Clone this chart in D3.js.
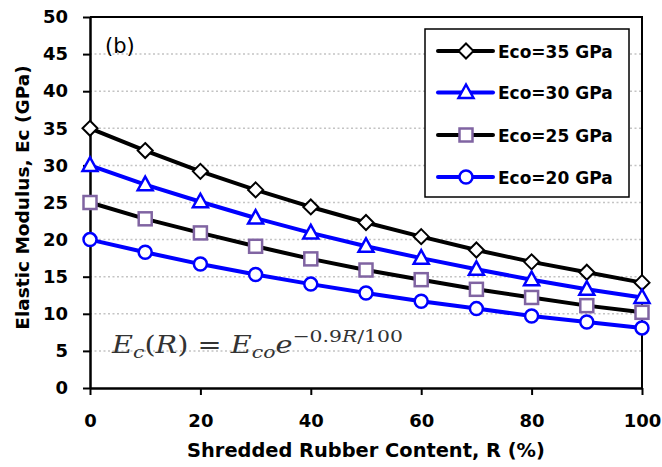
<!DOCTYPE html>
<html>
<head>
<meta charset="utf-8">
<script src="https://cdn.jsdelivr.net/npm/d3@7"></script>
<style>
  html, body { margin: 0; padding: 0; background: #fff; }
  svg { display: block; }
</style>
</head>
<body>
<svg id="chart" width="662" height="467"></svg>
<script>
// Rubber content R (%)
const rubber = [0, 10, 20, 30, 40, 50, 60, 70, 80, 90, 100];

// Elastic modulus Ec (GPa) for each reference modulus Eco
const eco35 = [35.0, 32.0, 29.2, 26.7, 24.4, 22.3, 20.4, 18.6, 17.0, 15.6, 14.2];
const eco30 = [30.0, 27.4, 25.1, 22.9, 20.9, 19.1, 17.5, 16.0, 14.6, 13.3, 12.2];
const eco25 = [25.0, 22.8, 20.9, 19.1, 17.4, 15.9, 14.6, 13.3, 12.2, 11.1, 10.2];
const eco20 = [20.0, 18.3, 16.7, 15.3, 14.0, 12.8, 11.7, 10.7, 9.7, 8.9, 8.1];

const seriesNames = ["Eco=35 GPa", "Eco=30 GPa", "Eco=25 GPa", "Eco=20 GPa"];
const xTicks = [0, 20, 40, 60, 80, 100];
const yTicks = [0, 5, 10, 15, 20, 25, 30, 35, 40, 45, 50];

const series = [
  { name: seriesNames[0], values: eco35, line: "#000000", marker: "diamond",  mStroke: "#000000" },
  { name: seriesNames[1], values: eco30, line: "#0000ff", marker: "triangle", mStroke: "#0000ff" },
  { name: seriesNames[2], values: eco25, line: "#000000", marker: "square",   mStroke: "#8064a2" },
  { name: seriesNames[3], values: eco20, line: "#0000ff", marker: "circle",   mStroke: "#0000ff" }
];

const svg = d3.select("#chart");
const plot = { left: 90, right: 642, top: 17, bottom: 388 };

const x = d3.scaleLinear().domain([0, 100]).range([plot.left, plot.right]);
const y = d3.scaleLinear().domain([0, 50]).range([plot.bottom, plot.top]);

const boldFont = "'DejaVu Sans', sans-serif";

// dotted horizontal gridlines
svg.append("g")
  .selectAll("line")
  .data(yTicks.filter(d => d > 0 && d < 50))
  .join("line")
  .attr("x1", plot.left).attr("x2", plot.right)
  .attr("y1", d => y(d)).attr("y2", d => y(d))
  .attr("stroke", "#c4c4c4")
  .attr("stroke-width", 1.5)
  .attr("stroke-dasharray", "2,2.5");

// frame: top and right edges
svg.append("path")
  .attr("d", `M${plot.left},${plot.top}H${plot.right}V${plot.bottom}`)
  .attr("fill", "none")
  .attr("stroke", "#000")
  .attr("stroke-width", 2);

// y axis
const yAxis = svg.append("g")
  .attr("transform", `translate(${plot.left},0)`)
  .call(d3.axisLeft(y).tickValues(yTicks).tickSizeOuter(0).tickSizeInner(7).tickPadding(15));
yAxis.select(".domain").attr("stroke-width", 2.5);
yAxis.selectAll(".tick line").attr("stroke-width", 2);
yAxis.selectAll(".tick text")
  .attr("font-family", boldFont).attr("font-weight", "bold").attr("font-size", 18)
  .attr("fill", "#000");

// x axis
const xAxis = svg.append("g")
  .attr("transform", `translate(0,${plot.bottom})`)
  .call(d3.axisBottom(x).tickValues(xTicks).tickSizeOuter(0).tickSizeInner(7).tickPadding(0));
xAxis.select(".domain").attr("stroke-width", 2.5);
xAxis.selectAll(".tick line").attr("stroke-width", 2);
xAxis.selectAll(".tick text")
  .attr("font-family", boldFont).attr("font-weight", "bold").attr("font-size", 18)
  .attr("fill", "#000")
  .attr("dy", null)
  .attr("y", 39);

// axis titles
svg.append("text")
  .attr("x", (plot.left + plot.right) / 2).attr("y", 457)
  .attr("text-anchor", "middle")
  .attr("font-family", boldFont).attr("font-weight", "bold").attr("font-size", 19.4)
  .text("Shredded Rubber Content, R (%)");

svg.append("text")
  .attr("transform", `translate(29,${(plot.top + plot.bottom) / 2 - 5}) rotate(-90)`)
  .attr("text-anchor", "middle")
  .attr("font-family", boldFont).attr("font-weight", "bold").attr("font-size", 18.5)
  .text("Elastic Modulus, Ec (GPa)");

// panel label
svg.append("text")
  .attr("x", 105).attr("y", 53)
  .attr("font-family", "'DejaVu Sans', sans-serif").attr("font-size", 21)
  .text("(b)");

// marker shapes
function drawMarker(sel, kind, stroke) {
  if (kind === "diamond") {
    sel.append("path").attr("d", "M0,-7.5L7.5,0L0,7.5L-7.5,0Z")
      .attr("fill", "#fff").attr("stroke", stroke).attr("stroke-width", 2);
  } else if (kind === "triangle") {
    sel.append("path").attr("d", "M0,-8L7.5,5.5L-7.5,5.5Z")
      .attr("fill", "#fff").attr("stroke", stroke).attr("stroke-width", 2.5);
  } else if (kind === "square") {
    sel.append("rect").attr("x", -6.5).attr("y", -6.5).attr("width", 13).attr("height", 13)
      .attr("fill", "#fff").attr("stroke", stroke).attr("stroke-width", 2.5);
  } else {
    sel.append("circle").attr("r", 6.5)
      .attr("fill", "#fff").attr("stroke", stroke).attr("stroke-width", 2.5);
  }
}

const line = d3.line().x(d => x(d[0])).y(d => y(d[1]));

series.forEach(s => {
  const pts = rubber.map((r, i) => [r, s.values[i]]);
  const g = svg.append("g");
  g.append("path")
    .attr("d", line(pts))
    .attr("fill", "none")
    .attr("stroke", s.line)
    .attr("stroke-width", 4)
    .attr("stroke-linejoin", "round");
  g.selectAll("g.pt")
    .data(pts)
    .join("g")
    .attr("class", "pt")
    .attr("transform", d => `translate(${x(d[0])},${y(d[1])})`)
    .each(function () { drawMarker(d3.select(this), s.marker, s.mStroke); });
});

// legend
const legend = svg.append("g");
legend.append("rect")
  .attr("x", 425).attr("y", 29).attr("width", 204).attr("height", 168)
  .attr("fill", "#fff").attr("stroke", "#000").attr("stroke-width", 1.5);

const legendRows = [51, 92.5, 135, 177];
series.forEach((s, i) => {
  const row = legend.append("g").attr("transform", `translate(0,${legendRows[i]})`);
  row.append("line")
    .attr("x1", 438).attr("x2", 493).attr("y1", 0).attr("y2", 0)
    .attr("stroke", s.line).attr("stroke-width", 4).attr("stroke-linecap", "round");
  drawMarker(row.append("g").attr("transform", "translate(466,0)"), s.marker, s.mStroke);
  row.append("text")
    .attr("x", 498).attr("y", 6.5)
    .attr("font-family", boldFont).attr("font-weight", "bold").attr("font-size", 17)
    .text(s.name);
});

// fitted relation, widened to span x = 112 .. 403
const eqLeft = 112, eqRight = 403;
const eqG = svg.append("g");
const eq = eqG.append("text")
  .attr("x", eqLeft).attr("y", 353)
  .attr("font-family", "'DejaVu Serif', serif")
  .attr("font-size", 24)
  .attr("fill", "#333");
eq.append("tspan").attr("font-style", "italic").text("E");
eq.append("tspan").attr("font-style", "italic").attr("font-size", 17).attr("dy", 5).text("c");
eq.append("tspan").attr("dy", -5).text("(");
eq.append("tspan").attr("font-style", "italic").text("R");
eq.append("tspan").text(") = ");
eq.append("tspan").attr("font-style", "italic").text("E");
eq.append("tspan").attr("font-style", "italic").attr("font-size", 17).attr("dy", 5).text("co");
eq.append("tspan").attr("font-style", "italic").attr("dy", -5).text("e");
eq.append("tspan").attr("font-size", 17).attr("dy", -11).text("\u22120.9");
eq.append("tspan").attr("font-style", "italic").attr("font-size", 17).text("R");
eq.append("tspan").attr("font-size", 17).text("/100");
const eqW = eq.node().getComputedTextLength();
const k = (eqRight - eqLeft) / eqW;
eqG.attr("transform", `translate(${eqLeft},0) scale(${k},1) translate(${-eqLeft},0)`);
</script>
</body>
</html>
